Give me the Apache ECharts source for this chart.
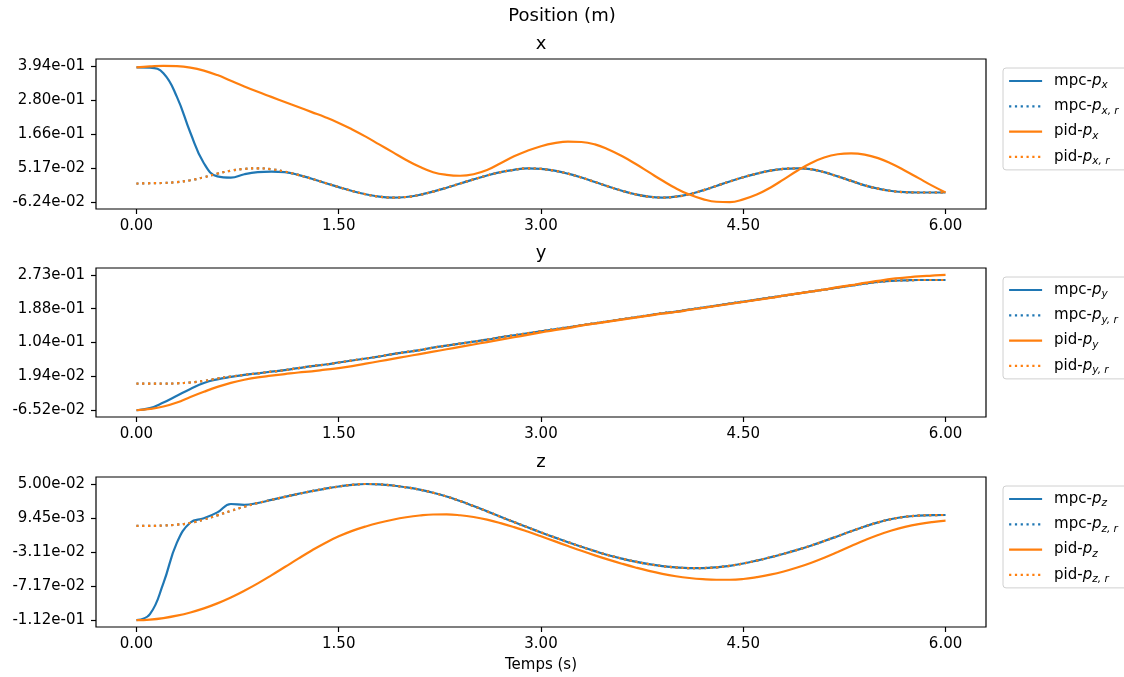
<!DOCTYPE html>
<html>
<head>
<meta charset="utf-8">
<script src="https://cdn.jsdelivr.net/npm/echarts@6/dist/echarts.min.js"></script>
<style>
html,body{margin:0;padding:0;background:#ffffff;}
#chart{width:1124px;height:677px;}
</style>
</head>
<body>
<div id="chart"></div>
<script>
// ---------- DATA ----------
const time = [0.0,0.1,0.2,0.3,0.4,0.5,0.6,0.7,0.8,0.9,
  1.0,1.1,1.2,1.3,1.4,1.5,1.6,1.7,1.8,1.9,
  2.0,2.1,2.2,2.3,2.4,2.5,2.6,2.7,2.8,2.9,
  3.0,3.1,3.2,3.3,3.4,3.5,3.6,3.7,3.8,3.9,
  4.0,4.1,4.2,4.3,4.4,4.5,4.6,4.7,4.8,4.9,
  5.0,5.1,5.2,5.3,5.4,5.5,5.6,5.7,5.8,5.9,
  6.0];

// x position (m)
const refX = [0.000,0.001,0.002,0.005,0.011,0.021,0.033,0.043,0.049,0.051,
  0.048,0.040,0.029,0.016,0.002,-0.012,-0.025,-0.036,-0.044,-0.047,
  -0.045,-0.038,-0.027,-0.014,0.000,0.014,0.027,0.038,0.046,0.051,
  0.049,0.043,0.033,0.020,0.005,-0.010,-0.024,-0.036,-0.044,-0.047,
  -0.044,-0.036,-0.023,-0.008,0.007,0.021,0.033,0.043,0.049,0.051,
  0.048,0.038,0.024,0.009,-0.006,-0.017,-0.025,-0.029,-0.030,-0.030,
  -0.030];
const mpcX = [0.389,0.388,0.369,0.290,0.170,0.068,0.024,0.020,0.031,0.038,
  0.040,0.038,0.029,0.016,0.002,-0.012,-0.025,-0.036,-0.044,-0.047,
  -0.045,-0.038,-0.027,-0.014,0.000,0.014,0.027,0.038,0.046,0.051,
  0.049,0.043,0.033,0.020,0.005,-0.010,-0.024,-0.036,-0.044,-0.047,
  -0.044,-0.036,-0.023,-0.008,0.007,0.021,0.033,0.043,0.049,0.051,
  0.048,0.038,0.024,0.009,-0.006,-0.017,-0.025,-0.029,-0.030,-0.030,
  -0.030];
const pidX = [0.389,0.392,0.394,0.393,0.388,0.378,0.363,0.344,0.325,0.307,
  0.290,0.273,0.256,0.239,0.222,0.203,0.181,0.157,0.131,0.105,
  0.079,0.056,0.038,0.029,0.026,0.031,0.045,0.068,0.091,0.110,
  0.125,0.135,0.140,0.139,0.131,0.114,0.092,0.066,0.038,0.010,
  -0.016,-0.037,-0.052,-0.061,-0.062,-0.053,-0.037,-0.014,0.014,0.043,
  0.068,0.087,0.098,0.101,0.097,0.085,0.066,0.043,0.018,-0.007,
  -0.030];

// y position (m)
const refY = [0.001,0.001,0.001,0.002,0.004,0.008,0.014,0.019,0.023,0.027,
  0.031,0.035,0.040,0.045,0.049,0.054,0.059,0.064,0.069,0.075,
  0.080,0.085,0.091,0.096,0.101,0.106,0.111,0.117,0.122,0.127,
  0.132,0.137,0.142,0.147,0.152,0.157,0.162,0.167,0.172,0.177,
  0.181,0.186,0.191,0.196,0.201,0.206,0.211,0.216,0.221,0.226,
  0.231,0.236,0.241,0.246,0.251,0.255,0.258,0.259,0.260,0.260,
  0.260];
const mpcY = [-0.0652,-0.060,-0.046,-0.029,-0.012,0.003,0.012,0.018,0.023,0.027,
  0.031,0.035,0.040,0.045,0.049,0.054,0.059,0.064,0.069,0.075,
  0.080,0.085,0.091,0.096,0.101,0.106,0.111,0.117,0.122,0.127,
  0.132,0.137,0.142,0.147,0.152,0.157,0.162,0.167,0.172,0.177,
  0.181,0.186,0.191,0.196,0.201,0.206,0.211,0.216,0.221,0.226,
  0.231,0.236,0.241,0.246,0.251,0.255,0.258,0.259,0.260,0.260,
  0.260];
const pidY = [-0.0652,-0.062,-0.056,-0.046,-0.032,-0.019,-0.007,0.003,0.011,0.017,
  0.021,0.025,0.029,0.032,0.036,0.040,0.045,0.051,0.057,0.063,
  0.069,0.075,0.081,0.087,0.093,0.099,0.105,0.111,0.117,0.123,
  0.129,0.135,0.140,0.146,0.151,0.156,0.161,0.166,0.171,0.176,
  0.180,0.185,0.190,0.195,0.200,0.205,0.210,0.215,0.221,0.226,
  0.231,0.236,0.242,0.247,0.253,0.258,0.263,0.266,0.269,0.271,
  0.273];

// z position (m)
const refZ = [0.0000,0.0000,0.0004,0.0014,0.0035,0.0075,0.0125,0.0178,0.0228,0.0272,
  0.0309,0.0345,0.0380,0.0413,0.0442,0.0468,0.0488,0.0498,0.0494,0.0480,
  0.0458,0.0430,0.0394,0.0349,0.0295,0.0235,0.0172,0.0108,0.0045,-0.0017,
  -0.0078,-0.0137,-0.0194,-0.0249,-0.0301,-0.0349,-0.0390,-0.0426,-0.0456,-0.0479,
  -0.0495,-0.0503,-0.0502,-0.0493,-0.0475,-0.0448,-0.0413,-0.0374,-0.0332,-0.0286,
  -0.0236,-0.0181,-0.0123,-0.0064,-0.0008,0.0041,0.0081,0.0108,0.0122,0.0128,
  0.0129];
const mpcZ = [-0.1122,-0.105,-0.068,-0.020,0.004,0.009,0.016,0.026,0.025,0.0272,
  0.0309,0.0345,0.0380,0.0413,0.0442,0.0468,0.0488,0.0498,0.0494,0.0480,
  0.0458,0.0430,0.0394,0.0349,0.0295,0.0235,0.0172,0.0108,0.0045,-0.0017,
  -0.0078,-0.0137,-0.0194,-0.0249,-0.0301,-0.0349,-0.0390,-0.0426,-0.0456,-0.0479,
  -0.0495,-0.0503,-0.0502,-0.0493,-0.0475,-0.0448,-0.0413,-0.0374,-0.0332,-0.0286,
  -0.0236,-0.0181,-0.0123,-0.0064,-0.0008,0.0041,0.0081,0.0108,0.0122,0.0128,
  0.0129];
const pidZ = [-0.1122,-0.1115,-0.1097,-0.1068,-0.1030,-0.0982,-0.0922,-0.0852,-0.0772,-0.0684,
  -0.0589,-0.0490,-0.0390,-0.0293,-0.0203,-0.0125,-0.0060,-0.0007,0.0037,0.0073,
  0.0102,0.0123,0.0135,0.0136,0.0126,0.0105,0.0074,0.0033,-0.0015,-0.0068,
  -0.0124,-0.0182,-0.0240,-0.0297,-0.0351,-0.0402,-0.0450,-0.0495,-0.0536,-0.0571,
  -0.0599,-0.0620,-0.0634,-0.0641,-0.0641,-0.0632,-0.0610,-0.0581,-0.0543,-0.0496,
  -0.0441,-0.0379,-0.0311,-0.0241,-0.0172,-0.0109,-0.0055,-0.0012,0.0021,0.0045,
  0.0062];

// tick values and labels
const xTickVals = [0, 1.5, 3, 4.5, 6];
const xTickLabels = ['0.00', '1.50', '3.00', '4.50', '6.00'];
const yTicksX = [-0.0624, 0.0517, 0.1658, 0.2799, 0.394];
const yLabelsX = ['-6.24e-02', '5.17e-02', '1.66e-01', '2.80e-01', '3.94e-01'];
const yTicksY = [-0.0652, 0.01936, 0.10392, 0.18848, 0.27304];
const yLabelsY = ['-6.52e-02', '1.94e-02', '1.04e-01', '1.88e-01', '2.73e-01'];
const yTicksZ = [-0.1122, -0.07165, -0.0311, 0.00945, 0.05];
const yLabelsZ = ['-1.12e-01', '-7.17e-02', '-3.11e-02', '9.45e-03', '5.00e-02'];

const axisNames = ['x', 'y', 'z'];
const suptitle = 'Position (m)';
const xLabel = 'Temps (s)';

// ---------- STYLE / LAYOUT ----------
const BLUE = '#1f77b4', ORANGE = '#ff7f0e';
const FONT = 'DejaVu Sans';
const DOT = [2.2, 3.6];
const LW = 2.2;
const gridLeft = 96, gridWidth = 890;
const gridTops = [59, 268, 477];
const gridHeights = [150, 149, 150];

const panels = [
  {ref: refX, mpc: mpcX, pid: pidX, ticks: yTicksX, labels: yLabelsX},
  {ref: refY, mpc: mpcY, pid: pidY, ticks: yTicksY, labels: yLabelsY},
  {ref: refZ, mpc: mpcZ, pid: pidZ, ticks: yTicksZ, labels: yLabelsZ}
];

function pairs(arr) { return time.map((t, i) => [t, arr[i]]); }
function nearestLabel(vals, labels, v) {
  let best = 0, bd = Infinity;
  vals.forEach((tv, i) => { const d = Math.abs(tv - v); if (d < bd) { bd = d; best = i; } });
  return labels[best];
}
function richName(name) {
  const m = name.match(/^(mpc|pid)-p(.)(,r)?$/);
  if (!m) return name;
  return m[1] + '-{i|p}{s|' + m[2] + (m[3] ? ', r' : '') + '}';
}

const grids = [], xAxes = [], yAxes = [], series = [], legends = [], graphics = [];

panels.forEach((p, i) => {
  const k = axisNames[i];
  grids.push({
    left: gridLeft, top: gridTops[i], width: gridWidth, height: gridHeights[i],
    show: true, borderColor: '#000', borderWidth: 1.2, backgroundColor: 'transparent',
    containLabel: false, outerBoundsMode: 'none'
  });
  xAxes.push({
    type: 'value', gridIndex: i, min: -0.3, max: 6.3, position: 'bottom',
    axisLine: {show: false, onZero: false},
    splitLine: {show: false},
    axisTick: {show: true, customValues: xTickVals, length: 5, lineStyle: {color: '#000', width: 1.2}},
    axisLabel: {show: true, customValues: xTickVals, margin: 10, color: '#000',
      fontFamily: FONT, fontSize: 15,
      formatter: v => nearestLabel(xTickVals, xTickLabels, v)}
  });
  const r = p.ticks[p.ticks.length - 1] - p.ticks[0];
  yAxes.push({
    type: 'value', gridIndex: i, position: 'left',
    min: p.ticks[0] - 0.05 * r, max: p.ticks[p.ticks.length - 1] + 0.05 * r,
    axisLine: {show: false, onZero: false},
    splitLine: {show: false},
    axisTick: {show: true, customValues: p.ticks, length: 5, lineStyle: {color: '#000', width: 1.2}},
    axisLabel: {show: true, customValues: p.ticks, margin: 11, color: '#000',
      fontFamily: FONT, fontSize: 15,
      formatter: v => nearestLabel(p.ticks, p.labels, v)}
  });
  const names = ['mpc-p' + k, 'mpc-p' + k + ',r', 'pid-p' + k, 'pid-p' + k + ',r'];
  const defs = [
    {name: names[0], data: p.mpc, color: BLUE, type: 'solid'},
    {name: names[1], data: p.ref, color: BLUE, type: DOT},
    {name: names[2], data: p.pid, color: ORANGE, type: 'solid'},
    {name: names[3], data: p.ref, color: ORANGE, type: DOT}
  ];
  defs.forEach(d => {
    series.push({
      name: d.name, type: 'line', xAxisIndex: i, yAxisIndex: i,
      data: pairs(d.data), symbol: 'none', showSymbol: false, smooth: 0.45,
      lineStyle: {color: d.color, width: LW, type: d.type, cap: 'butt'},
      itemStyle: {color: d.color}, silent: true, animation: false
    });
  });
  legends.push({
    data: names, orient: 'vertical', left: 1003, top: gridTops[i] + 9,
    itemWidth: 33, itemHeight: 14, itemGap: 5.3,
    padding: [3, 10, 3, 5],
    borderColor: '#d0d0d0', borderWidth: 1, borderRadius: 3,
    backgroundColor: 'rgba(255,255,255,0.8)',
    selectedMode: false,
    itemStyle: {opacity: 0},
    lineStyle: {width: LW},
    formatter: richName,
    textStyle: {
      color: '#000', fontFamily: FONT, fontSize: 15, lineHeight: 20, padding: [0, 0, 0, 7],
      rich: {
        i: {fontFamily: FONT, fontSize: 15, fontStyle: 'italic', color: '#000', lineHeight: 20},
        s: {fontFamily: FONT, fontSize: 10.5, fontStyle: 'italic', color: '#000', verticalAlign: 'bottom', lineHeight: 12}
      }
    }
  });
});

graphics.push({type: 'text', x: 562, y: 16.5, style: {text: suptitle, fontFamily: FONT, fontSize: 18, fill: '#000', textAlign: 'center', textVerticalAlign: 'middle'}});
const titleY = [44.5, 253.5, 462.5];
axisNames.forEach((n, i) => {
  graphics.push({type: 'text', x: gridLeft + gridWidth / 2, y: titleY[i], style: {text: n, fontFamily: FONT, fontSize: 18, fill: '#000', textAlign: 'center', textVerticalAlign: 'middle'}});
});
graphics.push({type: 'text', x: gridLeft + gridWidth / 2, y: 665, style: {text: xLabel, fontFamily: FONT, fontSize: 15, fill: '#000', textAlign: 'center', textVerticalAlign: 'middle'}});

const chart = echarts.init(document.getElementById('chart'), null, {renderer: 'canvas'});
chart.setOption({
  animation: false,
  backgroundColor: '#ffffff',
  textStyle: {fontFamily: FONT},
  grid: grids, xAxis: xAxes, yAxis: yAxes, series: series,
  legend: legends, graphic: graphics
});
</script>
</body>
</html>
